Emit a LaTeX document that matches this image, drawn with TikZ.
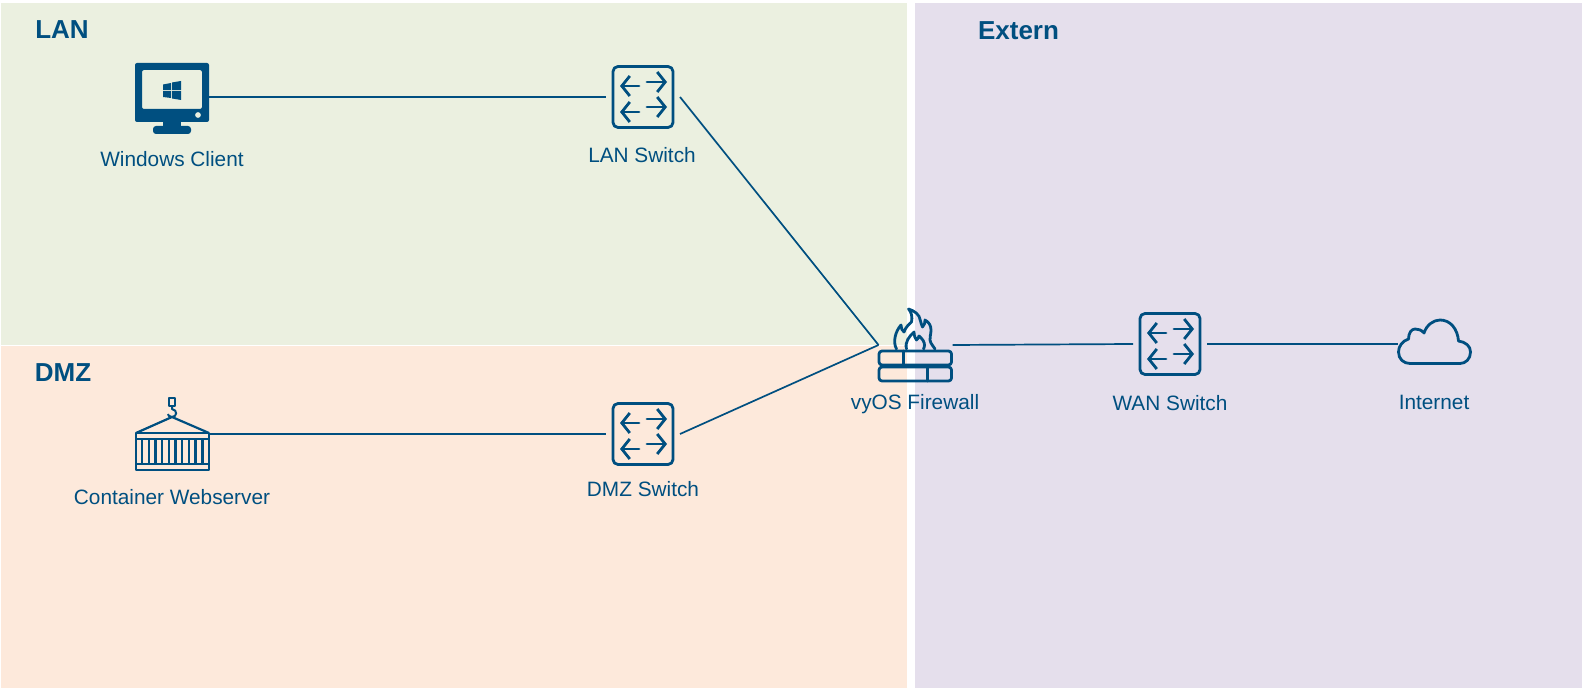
\documentclass[tikz,border=0pt]{standalone}
\usepackage{fontspec}
\setmainfont{Liberation Sans}
\usetikzlibrary{arrows.meta}
\definecolor{netblue}{HTML}{004F80}
\definecolor{lanbg}{HTML}{EBF0E0}
\definecolor{dmzbg}{HTML}{FDE9DB}
\definecolor{extbg}{HTML}{E5DFEC}
\tikzset{
  zonetitle/.style={text=netblue, font=\fontsize{13}{15}\selectfont\bfseries},
  devlabel/.style={text=netblue, font=\fontsize{10.4}{12}\selectfont},
  devnode/.style={minimum width=37pt, minimum height=30pt, inner sep=0pt, outer sep=0pt},
  link/.style={draw=netblue, line width=0.85pt},
  iconline/.style={draw=netblue, line width=1.4pt, line cap=round, line join=round},
  swarrow/.style={iconline, -{Straight Barb[length=4pt,width=10pt,line width=1.4pt]}},
  pics/switchicon/.style={code={
    \draw[iconline, rounded corners=2.5pt] (-30,-30.5) rectangle (30,30.5);
    \draw[swarrow] (-4,-11) -- (-23,-11);
    \draw[swarrow] (4,-15) -- (24,-15);
    \draw[swarrow] (-4,15) -- (-23,15);
    \draw[swarrow] (4,10) -- (24,10);
  }},
  pics/clienticon/.style={code={
    \fill[netblue, even odd rule, rounded corners=1pt] (-37,-34) rectangle (37,25)
      (-30,-27) rectangle (30,12) (26,18) circle (3);
    \fill[netblue] (-9,25) rectangle (9,29);
    \fill[netblue, rounded corners=1.5pt] (-19,37) -- (-19,29) -- (19,29) -- (19,37) -- cycle;
    \fill[netblue] (-9,-12.5) -- (-1,-14) -- (-1,-7) -- (-9,-7) -- cycle;
    \fill[netblue] (0,-14.5) -- (9,-16) -- (9,-7) -- (0,-7) -- cycle;
    \fill[netblue] (-9,-6) -- (-1,-6) -- (-1,1) -- (-9,0) -- cycle;
    \fill[netblue] (0,-6) -- (9,-6) -- (9,3) -- (0,1.5) -- cycle;
  }},
  pics/containericon/.style={code={
    \draw[iconline, line cap=butt, line width=1.1pt] (-36,-1) -- (0,-17) -- (37,-1);
    \draw[iconline, line cap=butt, line width=1.1pt] (-36,-1) -- (13,-1) (16,-1) -- (37,-1);
    \draw[iconline, line cap=butt, line width=1.1pt] (-3,-36) rectangle (3,-28);
    \draw[iconline, line cap=butt, line width=1pt] (0,-28) -- (0,-25) .. controls (6,-24) and (5,-17) .. (0,-17) .. controls (-3,-17) and (-4,-19) .. (-4,-20);
    \draw[iconline, line cap=butt, line width=1.1pt] (-36,-1) rectangle (37,36);
    \draw[iconline, line cap=butt, line width=1.1pt] (-36,5) -- (37,5) (-36,30) -- (37,30);
    \foreach \barx in {-30,-23.3,...,31}
      \draw[netblue, line width=1.2pt] (\barx,5) -- (\barx,30);
  }},
  pics/firewallicon/.style={code={
    \draw[iconline, rounded corners=1.5pt] (-36.5,6) rectangle (36,20);
    \draw[iconline, rounded corners=1.5pt] (-36.5,22) rectangle (36,36);
    \draw[iconline] (-12,6) -- (-12,20) (12,22) -- (12,36);
    \draw[iconline] (-19,4) .. controls (-23,-3) and (-20,-14) .. (-14.5,-20)
      .. controls (-14.5,-17) and (-13.5,-14) .. (-11.5,-13)
      .. controls (-10,-18) and (-6,-21) .. (-4,-23)
      .. controls (-3,-28) and (-4,-33) .. (-7,-36)
      .. controls (-1,-34) and (4,-31) .. (5,-24)
      .. controls (5.5,-22) and (6,-20) .. (7,-18)
      .. controls (9,-20) and (9.5,-22) .. (9.5,-25)
      .. controls (13,-23) and (15.5,-20) .. (15.5,-15)
      .. controls (15.5,-10) and (14,-8) .. (14.5,-5)
      .. controls (15,-1) and (18,1) .. (19.5,4);
    \draw[iconline] (-9,4) .. controls (-11,-3) and (-6,-9) .. (-1.5,-13)
      .. controls (-1.5,-9) and (0,-6) .. (1,-5)
      .. controls (2,-6) and (3,-7) .. (3.5,-9)
      .. controls (7,-6) and (9,-3) .. (9,0)
      .. controls (9,1.5) and (8.5,3) .. (8,4);
  }},
  pics/cloudicon/.style={code={
    \draw[iconline] (-24.5,19.5) .. controls (-31,19.5) and (-36,15) .. (-36,8)
      .. controls (-36,2) and (-32,-3) .. (-26,-5)
      .. controls (-26,-11) and (-23,-15) .. (-19.5,-15)
      .. controls (-16,-15) and (-13,-14) .. (-10.5,-11)
      .. controls (-8,-19) and (-1,-24) .. (5.5,-24)
      .. controls (16,-24) and (23,-15) .. (24,-3)
      .. controls (31,-2) and (36,2) .. (36,8)
      .. controls (36,15) and (31,19.5) .. (25.5,19.5) -- cycle;
  }},
}
\begin{document}
\begin{tikzpicture}[x=0.5pt, y=-0.5pt]
\useasboundingbox (0,0) rectangle (1582,688);
% zones
\fill[lanbg] (1,3) rectangle (907,345);
\fill[dmzbg] (1,346) rectangle (907,688);
\fill[extbg] (915,3) rectangle (1582,688);
\node[zonetitle] (lantitle) at (62,30) {LAN};
\node[zonetitle] (dmztitle) at (63,373) {DMZ};
\node[zonetitle] (exttitle) at (1018.5,31) {Extern};
% devices
\node[devnode] (client) at (172,97) {};
\node[devnode] (lanswitch) at (643,97) {};
\node[devnode] (webserver) at (172,434) {};
\node[devnode] (dmzswitch) at (643,434) {};
\node[devnode] (firewall) at (915.5,345) {};
\node[devnode] (wanswitch) at (1170,344) {};
\node[devnode] (internet) at (1434.5,344) {};
\pic at (client) {clienticon};
\pic at (lanswitch) {switchicon};
\pic at (webserver) {containericon};
\pic at (dmzswitch) {switchicon};
\pic at (firewall) {firewallicon};
\pic at (wanswitch) {switchicon};
\pic at (internet) {cloudicon};
\node[devlabel] (clientlabel) at (172,159) {Windows Client};
\node[devlabel] (lanswitchlabel) at (642,155) {LAN Switch};
\node[devlabel] (webserverlabel) at (172,497) {Container Webserver};
\node[devlabel] (dmzswitchlabel) at (643,489) {DMZ Switch};
\node[devlabel] (firewalllabel) at (915,404) {vyOS Firewall};
\node[devlabel] (wanswitchlabel) at (1170,403) {WAN Switch};
\node[devlabel] (internetlabel) at (1434,402) {Internet};
% links
\draw[link] (client.east) -- (lanswitch.west);
\draw[link] (webserver.east) -- (dmzswitch.west);
\draw[link] (lanswitch.east) -- (firewall.west);
\draw[link] (dmzswitch.east) -- (firewall.west);
\draw[link] (firewall.east) -- (wanswitch.west);
\draw[link] (wanswitch.east) -- (internet.west);
\end{tikzpicture}
\end{document}
